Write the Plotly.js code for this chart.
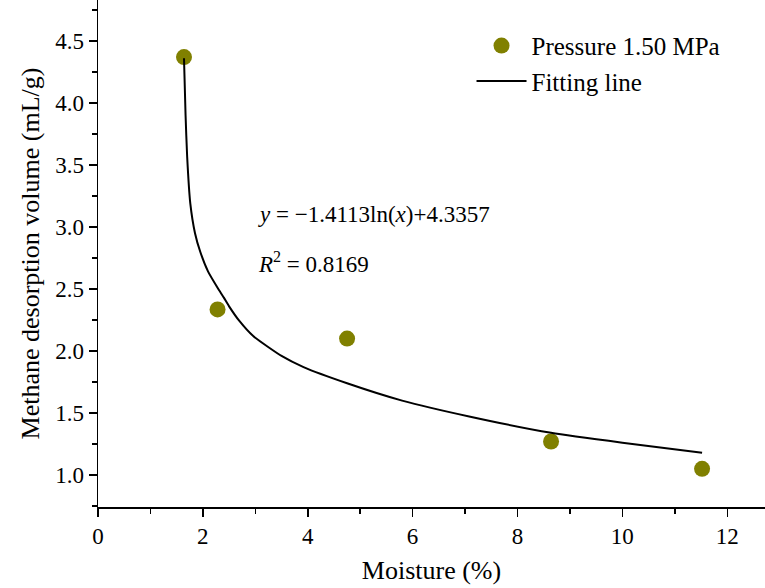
<!DOCTYPE html>
<html>
<head>
<meta charset="utf-8">
<script src="https://cdn.plot.ly/plotly-3.0.1.min.js"></script>
<style>html,body{margin:0;padding:0;background:#fff;}#chart{width:765px;height:588px;}</style>
</head>
<body>
<div id="chart"></div>
<script>
// Measured points
const moisture = [1.64, 2.28, 4.75, 8.64, 11.52];
const desorption = [4.37, 2.335, 2.10, 1.27, 1.05];
// Fitting line
const fitX = [1.64, 1.67, 1.70, 1.76, 1.85, 1.95, 2.10, 2.28, 2.40, 2.50, 2.70, 2.96, 3.50, 3.92, 4.75, 5.80, 7.10, 8.64, 10.0, 11.52];
const fitY = [4.36, 3.90, 3.57, 3.19, 2.95, 2.80, 2.64, 2.51, 2.43, 2.36, 2.24, 2.12, 1.96, 1.87, 1.74, 1.60, 1.47, 1.34, 1.26, 1.18];
const xTicks = [0, 2, 4, 6, 8, 10, 12];
const yTicks = [1.0, 1.5, 2.0, 2.5, 3.0, 3.5, 4.0, 4.5];

const font = 'Liberation Serif, Times New Roman, serif';
const traces = [
  {x: moisture, y: desorption, mode: 'markers', type: 'scatter', name: 'Pressure 1.50 MPa',
   marker: {color: '#808000', size: 16}},
  {x: fitX, y: fitY, mode: 'lines', type: 'scatter', name: 'Fitting line',
   line: {color: '#000', width: 2, shape: 'spline', smoothing: 0.5}}
];
const layout = {
  width: 765, height: 588,
  margin: {l: 98, r: 0, t: 0, b: 81},
  paper_bgcolor: '#fff', plot_bgcolor: '#fff',
  font: {family: font, color: '#000', size: 23},
  showlegend: true,
  legend: {x: 0.56, y: 0.955, xanchor: 'left', yanchor: 'top', bgcolor: 'rgba(0,0,0,0)',
           font: {family: font, size: 25}, tracegroupgap: 0, itemwidth: 50},
  xaxis: {range: [0, 12.72], tickvals: xTicks, ticktext: xTicks.map(String),
          showgrid: false, zeroline: false, showline: true, linecolor: '#000', linewidth: 1.5,
          ticks: 'outside', ticklen: 8, tickwidth: 1.5, tickcolor: '#000',
          minor: {dtick: 1, ticks: 'outside', ticklen: 5, tickwidth: 1.5, tickcolor: '#000', showgrid: false},
          tickfont: {family: font, size: 23},
          title: {text: 'Moisture (%)', font: {family: font, size: 26}, standoff: 12}},
  yaxis: {range: [0.742, 4.83], tickvals: yTicks, ticktext: yTicks.map(v => v.toFixed(1)),
          showgrid: false, zeroline: false, showline: true, linecolor: '#000', linewidth: 1.5,
          ticks: 'outside', ticklen: 8, tickwidth: 1.5, tickcolor: '#000',
          minor: {dtick: 0.25, ticks: 'outside', ticklen: 5, tickwidth: 1.5, tickcolor: '#000', showgrid: false},
          tickfont: {family: font, size: 23},
          title: {text: 'Methane desorption volume (mL/g)', font: {family: font, size: 26}, standoff: 8}},
  annotations: [
    {xref: 'paper', yref: 'paper', x: (256-98)/667, y: 1-215/507, xanchor: 'left', yanchor: 'middle', showarrow: false,
     text: '<i>y</i> = −1.4113ln(<i>x</i>)+4.3357', font: {family: font, size: 23}},
    {xref: 'paper', yref: 'paper', x: (256-98)/667, y: 1-262/507, xanchor: 'left', yanchor: 'middle', showarrow: false,
     text: '<i>R</i><sup>2</sup> = 0.8169', font: {family: font, size: 23}}
  ]
};
Plotly.newPlot('chart', traces, layout, {displayModeBar: false, staticPlot: true});
</script>
</body>
</html>
